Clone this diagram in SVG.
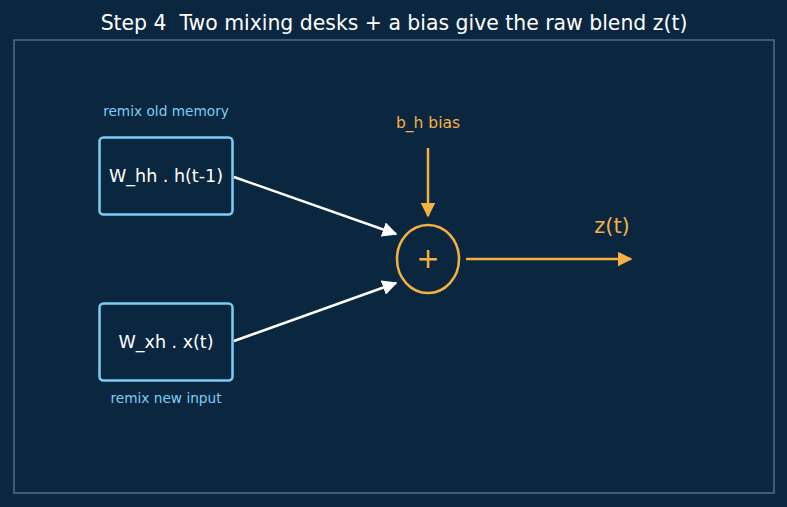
<svg xmlns="http://www.w3.org/2000/svg" width="787" height="507" viewBox="0 0 787 507">
<defs>
<style>
text{font-family:"DejaVu Sans","Liberation Sans",sans-serif;text-anchor:middle}
.box{fill:#0b2740;stroke:#7ccdf5;stroke-width:2.5}
.lbl{fill:#ffffff;font-size:17.5px}
.note{fill:#7ccdf5;font-size:13.7px}
.or{fill:#f5b043}
.wl{stroke:#ffffff;stroke-width:2.5;fill:none}
.ol{stroke:#f5b043;stroke-width:2.5;fill:none}
</style>
<marker id="aw" viewBox="0 0 10 10" refX="9" refY="5" markerWidth="6" markerHeight="6" orient="auto" markerUnits="strokeWidth"><path d="M0,0 L10,5 L0,10 z" fill="#ffffff"/></marker>
<marker id="ao" viewBox="0 0 10 10" refX="9" refY="5" markerWidth="6" markerHeight="6" orient="auto" markerUnits="strokeWidth"><path d="M0,0 L10,5 L0,10 z" fill="#f5b043"/></marker>
</defs>
<rect width="787" height="507" fill="#0b2740"/>
<text x="394" y="29.5" fill="#ffffff" font-size="20.4" xml:space="preserve" style="white-space:pre">Step 4  Two mixing desks + a bias give the raw blend z(t)</text>
<rect x="14" y="40" width="760" height="453" fill="none" stroke="#4f6d88" stroke-width="1.5"/>
<g id="edges">
<line class="wl" x1="234" y1="177" x2="396" y2="234" marker-end="url(#aw)"/>
<line class="wl" x1="234" y1="341" x2="396" y2="283" marker-end="url(#aw)"/>
<line class="ol" x1="428" y1="148" x2="428" y2="216" marker-end="url(#ao)"/>
<line class="ol" x1="466" y1="259" x2="631" y2="259" marker-end="url(#ao)"/>
</g>
<g id="whh">
<text x="166" y="116" class="note">remix old memory</text>
<rect class="box" x="99.5" y="137.5" width="133" height="77" rx="4"/>
<text x="166" y="182" class="lbl">W_hh . h(t-1)</text>
</g>
<g id="wxh">
<rect class="box" x="99.5" y="303.5" width="133" height="77" rx="4"/>
<text x="166" y="348" class="lbl">W_xh . x(t)</text>
<text x="166" y="403" class="note">remix new input</text>
</g>
<g id="bias">
<text x="428" y="128" class="or" font-size="15.5">b_h bias</text>
</g>
<g id="sum">
<ellipse cx="428" cy="259" rx="31" ry="34" class="ol"/>
<text x="428" y="268" class="or" font-size="28">+</text>
</g>
<g id="out">
<text x="612" y="233" class="or" font-size="21">z(t)</text>
</g>
</svg>
